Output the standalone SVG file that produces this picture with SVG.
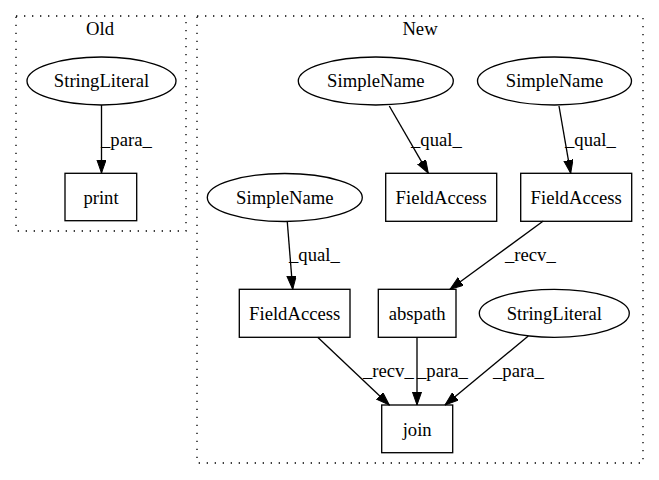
<svg xmlns="http://www.w3.org/2000/svg" width="659" height="480" viewBox="0 0 659 480">
<defs>
<style>
text{font-family:"Liberation Serif","Times New Roman",serif;font-size:18.67px;fill:#000}
.n{text-anchor:middle}
.shape{fill:none;stroke:#000;stroke-width:1.33}
.cl{fill:none;stroke:#000;stroke-width:1.33;stroke-dasharray:1.33,6.67}
.e{fill:none;stroke:#000;stroke-width:1.33;marker-end:url(#ah)}
</style>
<marker id="ah" markerUnits="userSpaceOnUse" markerWidth="14" markerHeight="10" refX="13.3" refY="4.67" orient="auto">
<path d="M0,0 L13.3,4.67 L0,9.33 z" fill="#000" stroke="#000" stroke-width="1"/>
</marker>
</defs>
<rect width="659" height="480" fill="#fff"/>
<g id="cluster_old">
<rect class="cl" x="16" y="16" width="170" height="215"/>
<text class="n" x="100" y="35">Old</text>
</g>
<g id="cluster_new">
<rect class="cl" x="197" y="16" width="446" height="447"/>
<text class="n" x="420" y="35">New</text>
</g>
<g id="connectors">
<path class="e" d="M101.5,105 L101.5,173"/>
<text x="101" y="146">_para_</text>
<path class="e" d="M389.3,106 L428.3,173.3"/>
<text x="411" y="146">_qual_</text>
<path class="e" d="M559,106 L570.7,173.3"/>
<text x="565" y="146">_qual_</text>
<path class="e" d="M287.3,222 L292.7,289.3"/>
<text x="289" y="261">_qual_</text>
<path class="e" d="M543.3,221 L450,289.3"/>
<text x="505" y="261">_recv_</text>
<path class="e" d="M317.7,337.3 L389.3,405"/>
<text x="363" y="377">_recv_</text>
<path class="e" d="M417,337.3 L417,405"/>
<text x="417" y="377">_para_</text>
<path class="e" d="M528.3,336 L445,405"/>
<text x="493" y="377">_para_</text>
</g>
<g id="old_stringliteral">
<ellipse class="shape" cx="101.5" cy="81" rx="74.5" ry="24"/>
<text class="n" x="101.5" y="87">StringLiteral</text>
</g>
<g id="old_print">
<rect class="shape" x="65" y="173.3" width="71.7" height="47.4"/>
<text class="n" x="101" y="203.5">print</text>
</g>
<g id="simplename1">
<ellipse class="shape" cx="375.8" cy="81" rx="77.5" ry="24"/>
<text class="n" x="375.8" y="87">SimpleName</text>
</g>
<g id="simplename2">
<ellipse class="shape" cx="554.5" cy="81" rx="77" ry="24"/>
<text class="n" x="554.5" y="87">SimpleName</text>
</g>
<g id="simplename3">
<ellipse class="shape" cx="284.8" cy="197.5" rx="77.5" ry="24"/>
<text class="n" x="284.8" y="203.5">SimpleName</text>
</g>
<g id="fieldaccess1">
<rect class="shape" x="385.7" y="173.3" width="111" height="48"/>
<text class="n" x="441.2" y="203.5">FieldAccess</text>
</g>
<g id="fieldaccess2">
<rect class="shape" x="520.7" y="173.3" width="111" height="48"/>
<text class="n" x="576.2" y="203.5">FieldAccess</text>
</g>
<g id="fieldaccess3">
<rect class="shape" x="239.3" y="289.3" width="110.7" height="48"/>
<text class="n" x="294.7" y="319.5">FieldAccess</text>
</g>
<g id="abspath">
<rect class="shape" x="378.3" y="289.3" width="77.7" height="48"/>
<text class="n" x="417.2" y="319.5">abspath</text>
</g>
<g id="new_stringliteral">
<ellipse class="shape" cx="554.3" cy="313.3" rx="75" ry="24"/>
<text class="n" x="554.3" y="319.5">StringLiteral</text>
</g>
<g id="join">
<rect class="shape" x="381.7" y="405" width="71" height="47.7"/>
<text class="n" x="417.2" y="435.5">join</text>
</g>
</svg>
